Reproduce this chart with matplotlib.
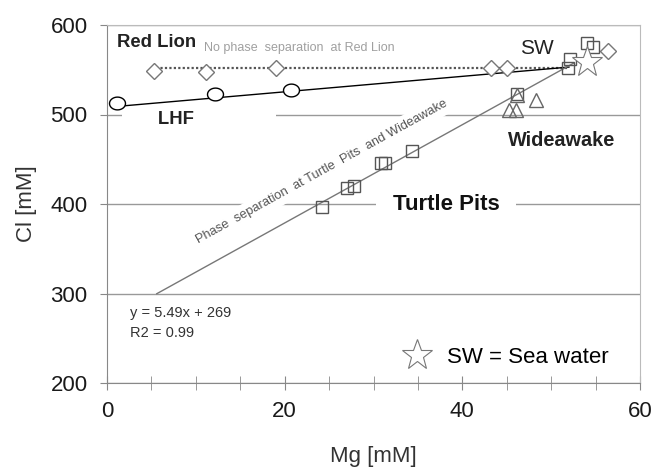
import numpy as np
import matplotlib
matplotlib.use("Agg")
import matplotlib.pyplot as plt
from matplotlib.path import Path

plt.rcParams['font.family'] = ['Liberation Sans', 'DejaVu Sans']

# vent fluid end-members, Mg vs Cl (mM)
red_lion_mg = [5.3, 11.2, 19.0, 43.2, 45.0, 56.4]
red_lion_cl = [549, 547, 552, 552, 552, 571]

lhf_mg = [1.1, 12.2, 20.7]
lhf_cl = [513, 523, 527]

turtle_mg = [24.2, 27.0, 27.8, 30.8, 31.3, 34.3, 46.1, 51.9, 52.1, 54.0, 54.7]
turtle_cl = [397, 418, 420, 446, 446, 459, 523, 552, 562, 580, 575]

wide_mg = [45.2, 46.0, 46.2, 48.3]
wide_cl = [505, 505, 522, 516]

sw_mg = [54.0]
sw_cl = [559]

# mixing lines towards seawater
red_lion_line_mg = [5.5, 52.0]
red_lion_line_cl = [552, 552]
lhf_line_mg = [1.1, 52.0]
lhf_line_cl = [509, 553]

fit_slope = 5.49
fit_icpt = 269
fit_r2 = 0.99
fit_mg = np.array([5.6, 52.5])

# flattened circle for the LHF samples
t = np.linspace(0, 2 * np.pi, 60)
ellipse = Path(np.column_stack([np.cos(t), 0.8 * np.sin(t)]), closed=True)

fig = plt.figure(figsize=(6.56, 4.68), dpi=100)
ax = fig.add_axes([107 / 656, 1 - 383 / 468, 533 / 656, 358 / 468])

ax.plot(red_lion_line_mg, red_lion_line_cl, ls=(0, (1, 1)), color='#555555', lw=1.6, zorder=4)
ax.plot(lhf_line_mg, lhf_line_cl, color='black', lw=1.0, zorder=4)
ax.plot(fit_mg, fit_slope * fit_mg + fit_icpt, color='#777777', lw=1.0, zorder=4)

ax.plot(red_lion_mg, red_lion_cl, ls='none', marker='D', ms=8, mfc='white', mec='#777777', mew=1, zorder=5)
ax.plot(lhf_mg, lhf_cl, ls='none', marker=ellipse, ms=11.5, mfc='white', mec='black', mew=1, zorder=5)
ax.plot(turtle_mg, turtle_cl, ls='none', marker='s', ms=9, mfc='none', mec='#555555', mew=1, zorder=5)
ax.plot(wide_mg, wide_cl, ls='none', marker='^', ms=10, mfc='none', mec='#666666', mew=1, zorder=5)
ax.plot(sw_mg, sw_cl, ls='none', marker='*', ms=23, mfc='white', mec='#777777', mew=0.8, zorder=5,
        label='SW = Sea water')

ax.set_xlim(0, 60)
ax.set_ylim(200, 600)
ax.set_xticks([0, 20, 40, 60])
ax.set_xticks(np.arange(0, 61, 5), minor=True)
ax.set_yticks([200, 300, 400, 500, 600])
ax.set_axisbelow(True)
ax.grid(axis='y', color='#999999', lw=1)

for side in ['top', 'right']:
    ax.spines[side].set_color('#bbbbbb')
for side in ['left', 'bottom']:
    ax.spines[side].set_color('#888888')

ax.tick_params(axis='x', which='both', direction='inout', length=10, color='#888888',
               labelsize=16, pad=8, labelcolor='#1a1a1a')
ax.tick_params(axis='y', direction='out', length=5, color='#888888',
               labelsize=16, pad=9, labelcolor='#1a1a1a')
ax.set_xlabel('Mg [mM]', fontsize=16, color='#333333', labelpad=17)
ax.set_ylabel('Cl [mM]', fontsize=16, color='#333333', labelpad=10)

white = dict(boxstyle='square,pad=0', fc='white', ec='none')

ax.text(5.6, 580, 'Red Lion', fontsize=13.3, fontweight='bold', ha='center', va='center', color='#222222')
ax.text(10.9, 574, 'No phase  separation  at Red Lion', fontsize=9, color='#a0a0a0', va='center')
ax.text(48.4, 574, 'SW', fontsize=15, ha='center', va='center', color='#222222')
ax.text(1.7, 494, '       LHF                ', fontsize=13.3, fontweight='bold', ha='left', va='center',
        color='#222222', bbox=white, zorder=3)
ax.text(51.2, 471.5, 'Wideawake', fontsize=14.3, fontweight='bold', ha='center', va='center', color='#222222')
ax.text(38.2, 399, 'Turtle Pits', fontsize=16, fontweight='bold', ha='center', va='center', color='#111111',
        bbox=dict(boxstyle='square,pad=0.75', fc='white', ec='none'), zorder=3)
ax.text(24.2, 436, 'Phase  separation  at Turtle  Pits  and Wideawake', fontsize=9.3, color='#555555',
        ha='center', va='center', rotation=np.degrees(np.arctan(fit_slope)), transform_rotates_text=True,
        rotation_mode='anchor', bbox=dict(boxstyle='square,pad=0.35', fc='white', ec='none'), zorder=3)
ax.text(2.6, 278, f'y = {fit_slope}x + {fit_icpt}', fontsize=10.5, color='#333333', va='center')
ax.text(2.6, 256, f'R2 = {fit_r2}', fontsize=10.5, color='#333333', va='center')

ax.legend(loc='lower right', bbox_to_anchor=(0.957, 0.017), borderaxespad=0, frameon=False,
          fontsize=16, handlelength=1.5, handletextpad=0.6, numpoints=1)

fig.savefig('out.png', dpi=100)
